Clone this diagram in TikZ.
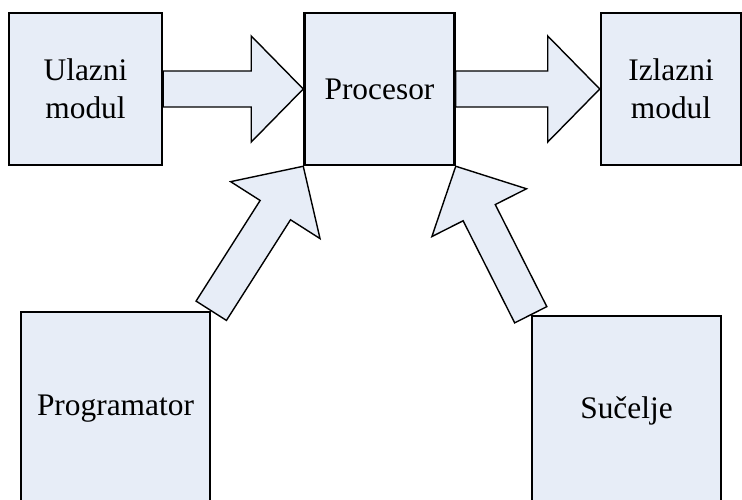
\documentclass[tikz,border=0pt]{standalone}
\usepackage{fontspec}
\setmainfont{Liberation Serif}
\usetikzlibrary{positioning,calc}

\definecolor{plava}{RGB}{231,237,247}

% block arrow from #1 to #2
\newcommand{\blokstrelica}[2]{%
  \coordinate (glava) at ($(#2)!52pt!(#1)$);
  \filldraw[strelica] ($(#1)!18pt!90:(#2)$) -- ($(glava)!18pt!-90:(#1)$) -- ($(glava)!53pt!-90:(#1)$) -- (#2) -- ($(glava)!53pt!90:(#1)$) -- ($(glava)!18pt!90:(#1)$) -- ($(#1)!18pt!-90:(#2)$) -- cycle;
}

\begin{document}
\begin{tikzpicture}[x=1pt, y=-1pt, every node/.style={draw, line width=2.5pt, fill=plava, align=center, font=\fontsize{31.4}{38}\selectfont, minimum height=152pt},
  strelica/.style={draw=black, fill=plava, line width=1.4pt, line join=miter}]
  \useasboundingbox (0,0) rectangle (742,499);
  \begin{scope}
  \clip (0,0) rectangle (742,499);
  \node (ul) [minimum width=153pt] at (85.5,89) {Ulazni\\modul};
  \node (pr) [minimum width=150pt, right=140pt of ul] {Procesor};
  \node (iz) [minimum width=140pt, right=144pt of pr] {Izlazni\\modul};
  \node (prog) [minimum width=189pt, minimum height=194pt] at (115.5,409) {Programator};
  \node (suc) [minimum width=189pt, minimum height=190pt] at (626.5,411) {Sučelje};
  \blokstrelica{ul.east}{pr.west}
  \blokstrelica{pr.east}{iz.west}
  \blokstrelica{prog.north east}{pr.south west}
  \blokstrelica{suc.north west}{pr.south east}
  \end{scope}
\end{tikzpicture}
\end{document}
